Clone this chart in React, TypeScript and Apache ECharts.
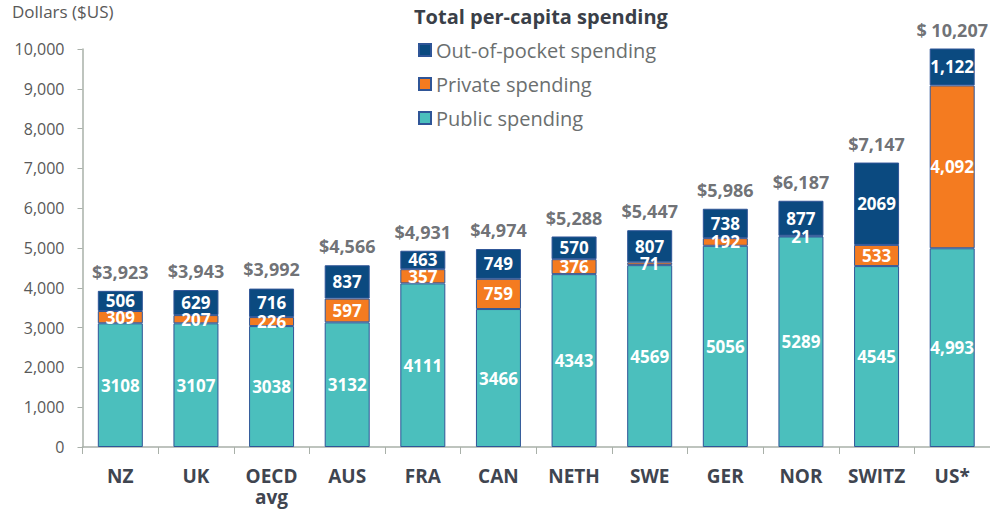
import React, { useEffect, useRef } from "react";
import * as echarts from "echarts";

const categories = ["NZ", "UK", "OECD\navg", "AUS", "FRA", "CAN", "NETH", "SWE", "GER", "NOR", "SWITZ", "US*"];
const publicSpending = [3108, 3107, 3038, 3132, 4111, 3466, 4343, 4569, 5056, 5289, 4545, 4993];
const privateSpending = [309, 207, 226, 597, 357, 759, 376, 71, 192, 21, 533, 4092];
const outOfPocket = [506, 629, 716, 837, 463, 749, 570, 807, 738, 877, 2069, 1122];
const totals = [3923, 3943, 3992, 4566, 4931, 4974, 5288, 5447, 5986, 6187, 7147, 10207];
const yTicks = [0, 1000, 2000, 3000, 4000, 5000, 6000, 7000, 8000, 9000, 10000];
const yMax = 10000;

const FONT = "'Open Sans', 'Noto Sans', sans-serif";

export default function App() {
  const ref = useRef<HTMLDivElement>(null);
  useEffect(() => {
    if (!ref.current) return;
    const chart = echarts.init(ref.current, undefined, { renderer: "svg" });
    const fmt = (p: any) => (p.dataIndex === 11 ? Number(p.value).toLocaleString("en-US") : String(p.value));
    const segLabel = {
      show: true,
      position: "inside" as const,
      color: "#ffffff",
      fontWeight: "bold" as const,
      fontSize: 17,
      fontFamily: FONT,
      formatter: fmt,
    };
    const border = { borderColor: "#2f5597", borderWidth: 1 };
    chart.setOption({
      animation: false,
      textStyle: { fontFamily: FONT },
      grid: { left: 82.5, right: -2, top: 49, bottom: 63, containLabel: false },
      legend: {
        orient: "vertical",
        left: 413,
        top: 35,
        itemWidth: 12,
        itemHeight: 12,
        itemGap: 14,
        icon: "rect",
        data: ["Out-of-pocket spending", "Private spending", "Public spending"],
        textStyle: { fontSize: 20, lineHeight: 20, color: "#6b6f6f", fontFamily: FONT },
      },
      graphic: [
        {
          type: "text",
          left: 12,
          top: 3,
          style: { text: "Dollars ($US)", fontSize: 17, fill: "#595959", fontFamily: FONT },
        },
        {
          type: "text",
          left: 414,
          top: 6,
          style: { text: "Total per-capita spending", fontSize: 20, fontWeight: "bold", fill: "#3a3f48", fontFamily: FONT },
        },
      ],
      xAxis: {
        type: "category",
        data: categories,
        axisLine: { show: true, lineStyle: { color: "#a9b0a9", width: 1.5 } },
        axisTick: { show: true, length: 7, lineStyle: { color: "#a9b0a9" } },
        axisLabel: {
          interval: 0,
          hideOverlap: false,
          margin: 18,
          fontSize: 19,
          fontWeight: "bold",
          color: "#3f4550",
          lineHeight: 21,
          fontFamily: FONT,
        },
      },
      yAxis: {
        type: "value",
        min: 0,
        max: yMax,
        interval: 1000,
        splitLine: { show: false },
        axisLine: { show: true, lineStyle: { color: "#a9b0a9", width: 1.5 } },
        axisTick: { show: true, length: 5, lineStyle: { color: "#a9b0a9" } },
        axisLabel: {
          margin: 18,
          fontSize: 16,
          color: "#595959",
          fontFamily: FONT,
          formatter: (v: number) => (yTicks.includes(v) ? v.toLocaleString("en-US") : ""),
        },
      },
      series: [
        {
          name: "Public spending",
          type: "bar",
          stack: "total",
          barWidth: 45,
          data: publicSpending,
          itemStyle: { color: "#4bbfbd", ...border },
          label: segLabel,
        },
        {
          name: "Private spending",
          type: "bar",
          stack: "total",
          barWidth: 45,
          data: privateSpending,
          itemStyle: { color: "#f47b20", ...border },
          label: segLabel,
        },
        {
          name: "Out-of-pocket spending",
          type: "bar",
          stack: "total",
          barWidth: 45,
          data: outOfPocket,
          itemStyle: { color: "#0b4a80", ...border },
          label: segLabel,
        },
        {
          name: "Totals",
          type: "scatter",
          data: totals.map((t) => Math.min(t, yMax)),
          symbolSize: 0,
          clip: false,
          silent: true,
          label: {
            show: true,
            position: "top",
            distance: 10,
            fontSize: 18,
            fontWeight: "bold",
            color: "#4a4d52",
            fontFamily: FONT,
            formatter: (p: any) => {
              const t = totals[p.dataIndex];
              return (p.dataIndex === 11 ? "$ " : "$") + t.toLocaleString("en-US");
            },
          },
        },
      ],
    });
    return () => chart.dispose();
  }, []);
  return (
    <div
      ref={ref}
      style={{ position: "absolute", left: 0, top: 0, width: 990, height: 510, background: "#ffffff" }}
    />
  );
}
